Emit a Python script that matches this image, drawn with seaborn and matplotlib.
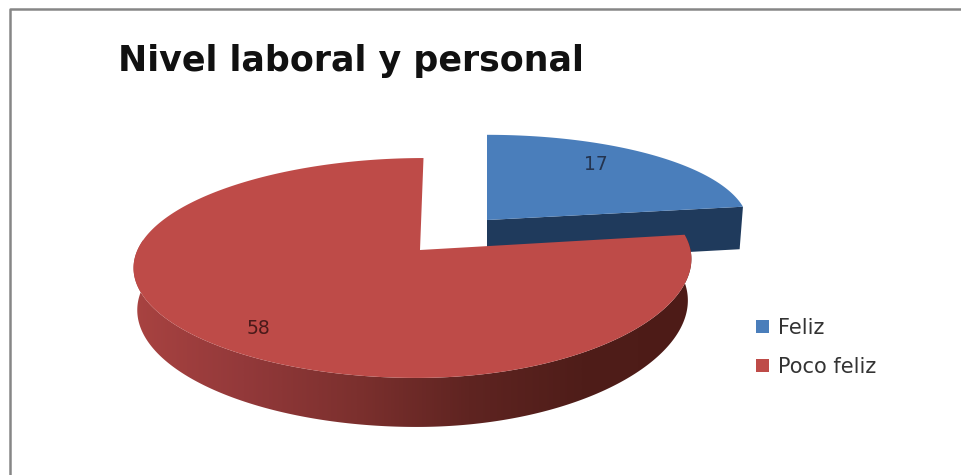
import numpy as np
import matplotlib
matplotlib.use("Agg")
import matplotlib.pyplot as plt
from matplotlib.patches import Patch, PathPatch
from matplotlib.path import Path
from matplotlib.colors import LinearSegmentedColormap
import seaborn as sns

# Chart content
title_text = "Nivel laboral y personal"
categories = ["Feliz", "Poco feliz"]
values = [17, 58]
top_colors = ["#4A7EBB", "#BE4B48"]

# Shading of the pie's edge
blue_edge = "#1F3A5C"
red_rim_stops = ["#A94341", "#93393A", "#7C302E", "#5F2421", "#4F1D19", "#4D1B17"]

# Per-slice projection of the tilted, exploded pie into figure pixels.
# Horizontal radius and foreshortening differ on either side of the apex.
BLUE_VIEW = dict(ax=487.0, ay=220.0, rx=(261.0, 261.0), ry=92.0, kx=(0.06, 0.06),
                 ky=0.08, sx=0.0, bow=0.0, thick=43.0)
RED_VIEW = dict(ax=420.0, ay=250.0, rx=(275.0, 278.0), ry=107.0, kx=(0.16, 0.09),
                ky=0.1636, sx=3.5, bow=7.5, thick=41.0)


def project(view, u, v, depth=0.0):
    """Map slice-local disc coordinates to pixels; depth=1 is the underside."""
    u, v = np.asarray(u, dtype=float), np.asarray(v, dtype=float)
    rx = np.where(u < 0, view["rx"][0], view["rx"][1])
    kx = np.where(u < 0, view["kx"][0], view["kx"][1])
    dx = rx * u / (1 + kx * v) + view["sx"] * v - view["bow"] * u ** 2
    wy = 1 + view["ky"] * v
    y = view["ay"] - view["ry"] * v / wy + depth * view["thick"] / wy
    x = view["ax"] + dx * (1 - 0.013 * depth)
    return x, y


sns.set_theme(style="white")
fig = plt.figure(figsize=(9.61, 4.75), dpi=100, facecolor="white")
ax = fig.add_axes([0, 0, 1, 1])

# Chart-area border: only its top and left sides fall inside the figure
ax.plot([10, 10, 961], [475, 9, 9], color="#868686", lw=1.8, zorder=1)

# Slice angles run clockwise from twelve o'clock
fractions = np.array(values, dtype=float) / sum(values)
edges = np.concatenate([[0], np.cumsum(fractions)]) * 2 * np.pi

# Blue slice: front radial edge first, then its top face
t = np.linspace(edges[0], edges[1], 240)
us, vs = np.sin(t), np.cos(t)
x0, y0 = project(BLUE_VIEW, [0, us[-1]], [0, vs[-1]])
x1, y1 = project(BLUE_VIEW, [0, us[-1]], [0, vs[-1]], 1)
ax.fill(np.r_[x0, x1[::-1]], np.r_[y0, y1[::-1]], color=blue_edge, lw=0, zorder=2)
tx, ty = project(BLUE_VIEW, np.r_[0, us], np.r_[0, vs])
ax.fill(tx, ty, color=top_colors[0], lw=0, zorder=3)

# Red slice: rim as one outline filled with a left-to-right shading ramp
t = np.linspace(edges[1], edges[2], 600)
us, vs = np.sin(t), np.cos(t)
front = vs <= 0.1
rx0, ry0 = project(RED_VIEW, us[front], vs[front])
rx1, ry1 = project(RED_VIEW, us[front], vs[front], 1)
rim_xy = np.column_stack([np.r_[rx0, rx1[::-1]], np.r_[ry0, ry1[::-1]]])
rim_clip = PathPatch(Path(np.vstack([rim_xy, rim_xy[:1]]), closed=True),
                     facecolor="none", edgecolor="none", transform=ax.transData)
ax.add_patch(rim_clip)
rim_cmap = LinearSegmentedColormap.from_list(
    "rim", sns.blend_palette(red_rim_stops, n_colors=256))
shade = ax.imshow(np.linspace(0, 1, 512)[None, :], cmap=rim_cmap, aspect="auto",
                  extent=(130, 695, 440, 230), zorder=4, interpolation="bilinear")
shade.set_clip_path(rim_clip)
tx, ty = project(RED_VIEW, np.r_[0, us], np.r_[0, vs])
ax.fill(tx, ty, color=top_colors[1], lw=0, zorder=5)

ax.set_xlim(0, 961)
ax.set_ylim(475, 0)
ax.axis("off")

# Value labels
ax.text(596, 165, str(values[0]), ha="center", va="center", fontsize=13.5,
        color="#24344F", family="DejaVu Sans", zorder=6)
ax.text(258, 328, str(values[1]), ha="center", va="center", fontsize=13.5,
        color="#4A1A1A", family="DejaVu Sans", zorder=6)

ax.text(118, 61, title_text, ha="left", va="center", fontsize=25.1,
        fontweight="bold", family="DejaVu Sans", color="#111111", zorder=6)

handles = [Patch(facecolor=c, edgecolor="none") for c in top_colors]
ax.legend(handles, categories, loc="upper left", bbox_to_anchor=(756 / 961, 1 - 318 / 475),
          frameon=False, fontsize=15, labelcolor="#333333", handlelength=0.63,
          handleheight=0.58, handletextpad=0.42, labelspacing=0.9, borderpad=0,
          borderaxespad=0)

fig.savefig("out.png", dpi=100, facecolor="white")
